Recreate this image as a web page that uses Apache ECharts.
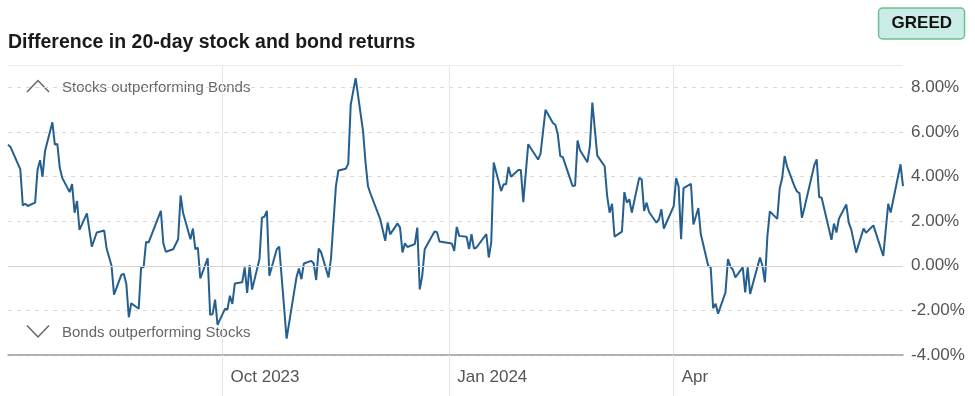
<!DOCTYPE html>
<html>
<head>
<meta charset="utf-8">
<script src="https://cdn.jsdelivr.net/npm/echarts@6/dist/echarts.min.js"></script>
<style>
  html, body { margin: 0; padding: 0; background: #fff; }
  #chart { width: 975px; height: 396px; }
</style>
</head>
<body>
<div id="chart"></div>
<script>
// trading days (vertices) and the 20-day stock minus bond return, in %
const dates = [
  '2023-07-06', '2023-07-07', '2023-07-11', '2023-07-12', '2023-07-13', '2023-07-14',
  '2023-07-17', '2023-07-18', '2023-07-19', '2023-07-20', '2023-07-21',
  '2023-07-24', '2023-07-25', '2023-07-26', '2023-07-27', '2023-07-28',
  '2023-07-31', '2023-08-01', '2023-08-02', '2023-08-03', '2023-08-04',
  '2023-08-07', '2023-08-09', '2023-08-11',
  '2023-08-14', '2023-08-15', '2023-08-17', '2023-08-18',
  '2023-08-21', '2023-08-22', '2023-08-23', '2023-08-24', '2023-08-25',
  '2023-08-28', '2023-08-29', '2023-08-30', '2023-08-31', '2023-09-01',
  '2023-09-06', '2023-09-07', '2023-09-08',
  '2023-09-11', '2023-09-13', '2023-09-14', '2023-09-15',
  '2023-09-18', '2023-09-19', '2023-09-20', '2023-09-21', '2023-09-22',
  '2023-09-25', '2023-09-26', '2023-09-27', '2023-09-28', '2023-09-29',
  '2023-10-02', '2023-10-03', '2023-10-04', '2023-10-05', '2023-10-06',
  '2023-10-09', '2023-10-10', '2023-10-11', '2023-10-12', '2023-10-13',
  '2023-10-16', '2023-10-17', '2023-10-18', '2023-10-19', '2023-10-20',
  '2023-10-23', '2023-10-24', '2023-10-27',
  '2023-10-31', '2023-11-01', '2023-11-02', '2023-11-03',
  '2023-11-06', '2023-11-07', '2023-11-08', '2023-11-09', '2023-11-10',
  '2023-11-13', '2023-11-14', '2023-11-16', '2023-11-17',
  '2023-11-20', '2023-11-21', '2023-11-22', '2023-11-24',
  '2023-11-27', '2023-11-28', '2023-11-29', '2023-11-30',
  '2023-12-04', '2023-12-06', '2023-12-07', '2023-12-08',
  '2023-12-11', '2023-12-12', '2023-12-13', '2023-12-14', '2023-12-15',
  '2023-12-18', '2023-12-19', '2023-12-20', '2023-12-21', '2023-12-22',
  '2023-12-26', '2023-12-27', '2023-12-28',
  '2024-01-02', '2024-01-03', '2024-01-04', '2024-01-05',
  '2024-01-08', '2024-01-09', '2024-01-10', '2024-01-11', '2024-01-12',
  '2024-01-16', '2024-01-17', '2024-01-18', '2024-01-19',
  '2024-01-22', '2024-01-23', '2024-01-24', '2024-01-25', '2024-01-26',
  '2024-01-29', '2024-01-30', '2024-01-31', '2024-02-02',
  '2024-02-06', '2024-02-07', '2024-02-09',
  '2024-02-12', '2024-02-13', '2024-02-14', '2024-02-15', '2024-02-16',
  '2024-02-20', '2024-02-21', '2024-02-22', '2024-02-23',
  '2024-02-26', '2024-02-27', '2024-02-28', '2024-03-01',
  '2024-03-04', '2024-03-05', '2024-03-06', '2024-03-07', '2024-03-08',
  '2024-03-11', '2024-03-12', '2024-03-13', '2024-03-14', '2024-03-15',
  '2024-03-18', '2024-03-19', '2024-03-20', '2024-03-21', '2024-03-22',
  '2024-03-25', '2024-03-26', '2024-03-27', '2024-03-28',
  '2024-04-01', '2024-04-02', '2024-04-03', '2024-04-04', '2024-04-05',
  '2024-04-08', '2024-04-09', '2024-04-11', '2024-04-12',
  '2024-04-15', '2024-04-16', '2024-04-17', '2024-04-18', '2024-04-19',
  '2024-04-22', '2024-04-23', '2024-04-24', '2024-04-25', '2024-04-26',
  '2024-04-29', '2024-04-30', '2024-05-01', '2024-05-02',
  '2024-05-06', '2024-05-07', '2024-05-08', '2024-05-09', '2024-05-10',
  '2024-05-13', '2024-05-14', '2024-05-15', '2024-05-16', '2024-05-17',
  '2024-05-20', '2024-05-21', '2024-05-22', '2024-05-23', '2024-05-24',
  '2024-05-28', '2024-05-29', '2024-05-30', '2024-05-31',
  '2024-06-03', '2024-06-04', '2024-06-05', '2024-06-06', '2024-06-07',
  '2024-06-10', '2024-06-11', '2024-06-12', '2024-06-14',
  '2024-06-17', '2024-06-18', '2024-06-21',
  '2024-06-25', '2024-06-27', '2024-06-28',
  '2024-07-02', '2024-07-03'
]

const values = [
  5.43, 5.33, 4.32, 2.71, 2.78, 2.68,
  2.83, 4.32, 4.73, 3.99, 5.13,
  6.43, 5.43, 5.46, 4.39, 3.94,
  3.30, 3.66, 2.38, 2.90, 1.61,
  2.35, 0.86, 1.49,
  1.58, 0.77, 0.00, -1.29,
  -0.40, -0.37, -0.82, -2.31, -1.68,
  -1.93, -0.07, -0.07, 1.07, 1.04,
  2.46, 1.01, 0.63,
  0.74, 1.19, 3.15, 2.38,
  1.19, 1.67, 0.74, 0.82, -0.57,
  0.34, -2.20, -2.16, -1.52, -2.65,
  -1.93, -1.96, -1.34, -1.71, -0.79,
  -0.74, -0.07, -1.22, 0.03, -1.07,
  0.30, 2.16, 2.20, 2.46, -0.45,
  0.74, 0.86, -3.27,
  -0.52, -0.12, -0.60, 0.10,
  0.22, 0.10, -0.64, 0.77, 0.60,
  -0.52, 0.33, 3.57, 4.27,
  4.35, 4.58, 7.22, 8.41,
  6.04, 4.65, 3.57, 3.24,
  2.08, 1.12, 1.93, 1.41,
  1.90, 1.71, 0.60, 1.01, 0.84,
  0.97, 1.71, -1.06, -0.45, 0.74,
  1.54, 1.50, 1.09,
  1.00, 0.67, 1.74, 1.34,
  1.30, 0.75, 1.42, 0.77, 0.82,
  1.42, 0.37, 1.05, 4.63,
  3.35, 3.65, 3.65, 4.43, 3.99,
  4.29, 4.29, 2.85, 5.45,
  4.76, 5.03, 6.99,
  6.40, 6.32, 5.88, 4.91, 4.88,
  3.57, 3.60, 5.61, 5.18,
  4.64, 5.36, 7.32, 4.94,
  4.46, 3.13, 2.38, 2.78, 1.31,
  1.53, 3.30, 2.83, 2.98, 2.38,
  3.94, 3.87, 2.46, 2.83, 2.41,
  1.93, 2.08, 2.53, 1.67,
  2.67, 3.93, 3.56, 1.19, 3.48,
  3.67, 1.85, 2.59, 1.41,
  0.00, -0.07, -1.90, -1.70, -2.15,
  -1.19, 0.30, -0.03, -0.18, -0.52,
  -0.07, -1.19, -0.07, -1.26,
  0.37, 0.00, -0.74, 1.33, 2.44,
  2.10, 3.48, 3.93, 4.92, 4.44,
  3.56, 3.33, 3.26, 2.15, 2.59,
  4.50, 4.77, 3.08, 3.05,
  1.64, 1.16, 1.89, 1.49, 2.11,
  2.75, 1.93, 1.63, 0.59,
  1.67, 1.48, 1.81,
  0.44, 2.78, 2.39,
  4.55, 3.57
]

const xTickDates = ['2023-10-01', '2024-01-01', '2024-04-01']
const xTickLabels = ['Oct 2023', 'Jan 2024', 'Apr']

const FONT = '"Liberation Sans", Arial, sans-serif'

const toTime = (s) => {
  const [y, m, d] = s.split('-').map(Number)
  return new Date(y, m - 1, d).getTime()
}
const xTicks = xTickDates.map(toTime)

const chart = echarts.init(document.getElementById('chart'), null, { renderer: 'canvas' })

chart.setOption({
  animation: false,
  backgroundColor: '#fff',
  title: [
    {
      text: 'Difference in 20-day stock and bond returns',
      left: 8,
      top: 33,
      padding: 0,
      textStyle: { fontFamily: FONT, fontSize: 19.5, fontWeight: 'bold', color: '#1a1a1a' },
    },
    {
      text: 'GREED',
      right: 10,
      top: 8,
      padding: [7, 13, 7, 13],
      backgroundColor: '#c9ede6',
      borderColor: '#6cbf95',
      borderWidth: 1.5,
      borderRadius: 4,
      textStyle: { fontFamily: FONT, fontSize: 17, fontWeight: 'bold', color: '#111' },
    },
  ],
  grid: { left: 8, right: 72, top: 65, bottom: 41 },
  xAxis: {
    // timestamps on a plain value axis so the three month ticks can be placed exactly
    type: 'value',
    min: toTime(dates[0]),
    max: toTime(dates[dates.length - 1]),
    axisLine: { onZero: false, lineStyle: { color: '#9c9c9c', width: 1.5 } },
    axisTick: {
      show: true,
      customValues: xTicks,
      length: 41,
      lineStyle: { color: '#e6e6e6' },
    },
    axisLabel: {
      customValues: xTicks,
      formatter: (v) => {
        const i = xTicks.indexOf(v)
        return i >= 0 ? xTickLabels[i] : ''
      },
      align: 'left',
      padding: [0, 0, 0, 8],
      margin: 14,
      color: '#555',
      fontSize: 17,
      fontFamily: FONT,
    },
    splitLine: { show: true, lineStyle: { color: '#e6e6e6' } },
  },
  yAxis: {
    type: 'value',
    position: 'right',
    min: -4,
    max: 9,
    interval: 2,
    axisLine: { show: false },
    axisTick: { show: false },
    axisLabel: {
      formatter: (v) => (v === 9 ? '' : v.toFixed(2) + '%'),
      margin: 8,
      color: '#555',
      fontSize: 17,
      fontFamily: FONT,
    },
    splitLine: { lineStyle: { type: [4, 5], color: '#d9d9d9' } },
  },
  graphic: [
    {
      type: 'polyline',
      shape: { points: [[27, 92], [38, 80.5], [49, 92]] },
      style: { stroke: '#666', lineWidth: 1.5, fill: null },
    },
    {
      type: 'text',
      x: 62,
      y: 88,
      style: { text: 'Stocks outperforming Bonds', fill: '#666', font: '15px ' + FONT, verticalAlign: 'middle' },
    },
    {
      type: 'polyline',
      shape: { points: [[27, 325.5], [38, 337], [49, 325.5]] },
      style: { stroke: '#666', lineWidth: 1.5, fill: null },
    },
    {
      type: 'text',
      x: 62,
      y: 333,
      style: { text: 'Bonds outperforming Stocks', fill: '#666', font: '15px ' + FONT, verticalAlign: 'middle' },
    },
  ],
  series: [
    {
      // reference lines only: zero line and the top border
      type: 'line',
      data: [],
      z: 1,
      silent: true,
      markLine: {
        silent: true,
        symbol: 'none',
        label: { show: false },
        lineStyle: { type: 'solid', width: 1 },
        data: [
          { yAxis: 0, lineStyle: { color: '#d4d4d4' } },
          { yAxis: 9, lineStyle: { color: '#ebebeb' } },
        ],
      },
    },
    {
      name: 'Difference',
      type: 'line',
      z: 3,
      showSymbol: false,
      symbol: 'none',
      data: dates.map((d, i) => [toTime(d), values[i]]),
      lineStyle: { color: '#245f8f', width: 2 },
    },
  ],
})
</script>
</body>
</html>
